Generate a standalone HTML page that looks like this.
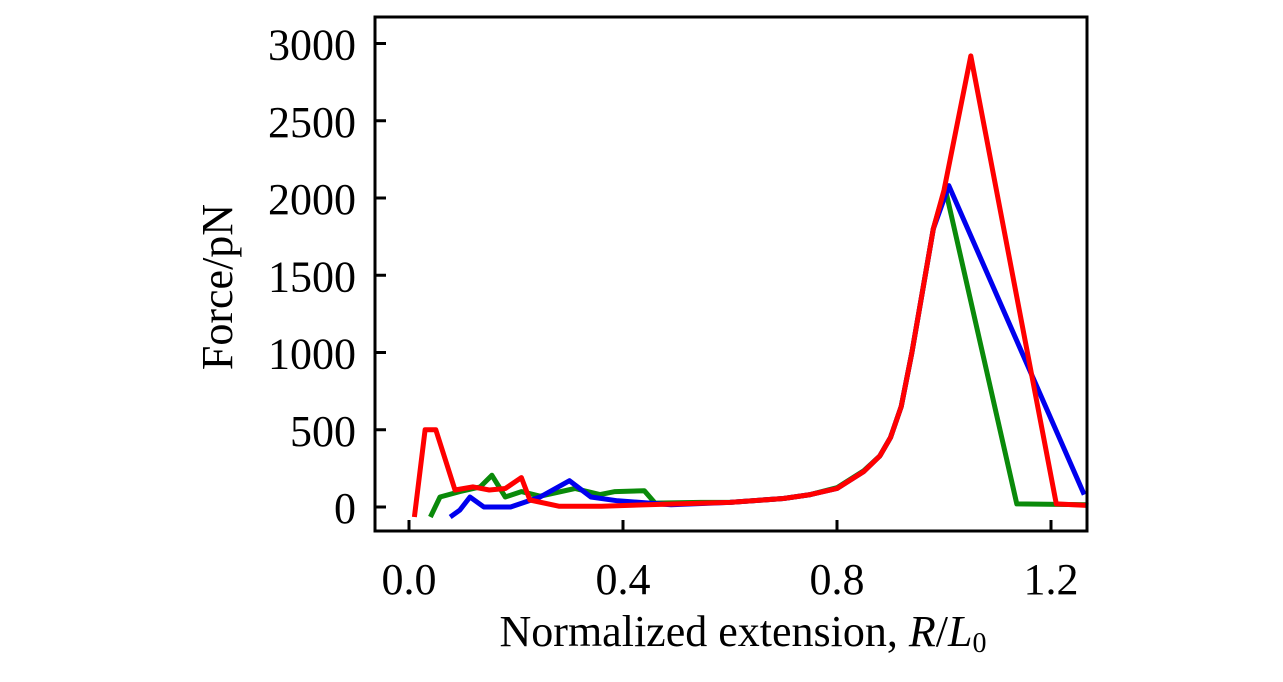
<!DOCTYPE html>
<html><head><meta charset="utf-8"><style>
html,body{margin:0;padding:0;background:#fff;}
svg text{font-family:"Liberation Serif",serif;fill:#000;}
</style></head><body>
<svg id="chart" width="1283" height="677" viewBox="0 0 1283 677" xmlns="http://www.w3.org/2000/svg"></svg>
<script>
const xTicks=[0.0,0.4,0.8,1.2];
const xTickLabels=["0.0","0.4","0.8","1.2"];
const yTicks=[0,500,1000,1500,2000,2500,3000];
const yTickLabels=["0","500","1000","1500","2000","2500","3000"];
const redX=[0.01,0.03,0.05,0.086,0.12,0.15,0.18,0.21,0.226,0.28,0.36,0.5,0.6,0.7,0.75,0.8,0.85,0.88,0.9,0.92,0.94,0.96,0.98,1.0,1.05,1.21,1.27];
const redY=[-65,500,500,110,130,110,120,190,45,5,5,20,30,55,80,120,230,330,450,650,1000,1400,1800,2050,2920,20,10];
const blueX=[0.077,0.095,0.114,0.14,0.19,0.245,0.30,0.34,0.39,0.49,0.6,0.7,0.75,0.8,0.85,0.88,0.9,0.92,0.94,0.96,0.98,1.009,1.262];
const blueY=[-65,-20,65,0,0,65,170,65,40,15,30,55,80,120,230,330,450,650,1000,1400,1800,2080,80];
const greenX=[0.04,0.058,0.095,0.133,0.155,0.18,0.21,0.245,0.31,0.357,0.385,0.44,0.46,0.545,0.6,0.7,0.75,0.8,0.85,0.88,0.9,0.92,0.94,0.96,0.98,1.002,1.136,1.27];
const greenY=[-65,65,100,130,205,65,100,70,120,80,100,105,25,30,30,55,80,125,235,330,450,650,1000,1400,1800,2065,20,15];

const NS="http://www.w3.org/2000/svg";
const svg=document.getElementById('chart');
const X0=375,X1=1087,Y0=17,Y1=531;
function sx(v){return 409+v*535;}
function sy(v){return 507-v*0.1545;}
function mk(tag,attrs){const e=document.createElementNS(NS,tag);for(const k in attrs)e.setAttribute(k,attrs[k]);svg.appendChild(e);return e;}

function drawSeries(xs,ys,color,name){
  let d='';
  for(let i=0;i<xs.length;i++){d+=(i?'L':'M')+sx(xs[i]).toFixed(1)+','+sy(ys[i]).toFixed(1);}
  const p=mk('path',{d:d,fill:'none',stroke:color,'stroke-width':5,'stroke-linejoin':'round'});
  
  
}
drawSeries(greenX,greenY,'#0a8a0a','green-curve');
drawSeries(blueX,blueY,'#0000ee','blue-curve');
drawSeries(redX,redY,'#ff0000','red-curve');

const frame=mk('rect',{x:X0,y:Y0,width:X1-X0,height:Y1-Y0,fill:'none',stroke:'#000','stroke-width':3});



xTicks.forEach((v,i)=>{
  const t=mk('line',{x1:sx(v),x2:sx(v),y1:Y1,y2:Y1-11,stroke:'#000','stroke-width':3});
  
  
  const l=mk('text',{x:sx(v),y:594,'font-size':44,'text-anchor':'middle'});
  l.textContent=xTickLabels[i];
  
  
});
yTicks.forEach((v,i)=>{
  const t=mk('line',{x1:X0,x2:X0+11,y1:sy(v),y2:sy(v),stroke:'#000','stroke-width':3});
  
  
  const l=mk('text',{x:356,y:sy(v)+16,'font-size':44,'text-anchor':'end'});
  l.textContent=yTickLabels[i];
  
  
});
const yl=mk('text',{x:0,y:0,'font-size':44,'text-anchor':'middle',transform:'translate(232,287) rotate(-90)'});
yl.textContent='Force/pN';


const xl=mk('text',{x:743,y:646,'font-size':44,'text-anchor':'middle'});
xl.innerHTML='Normalized extension, <tspan font-style="italic">R</tspan>/<tspan font-style="italic">L</tspan><tspan font-size="28" dy="6">0</tspan>';


</script>
</body></html>
